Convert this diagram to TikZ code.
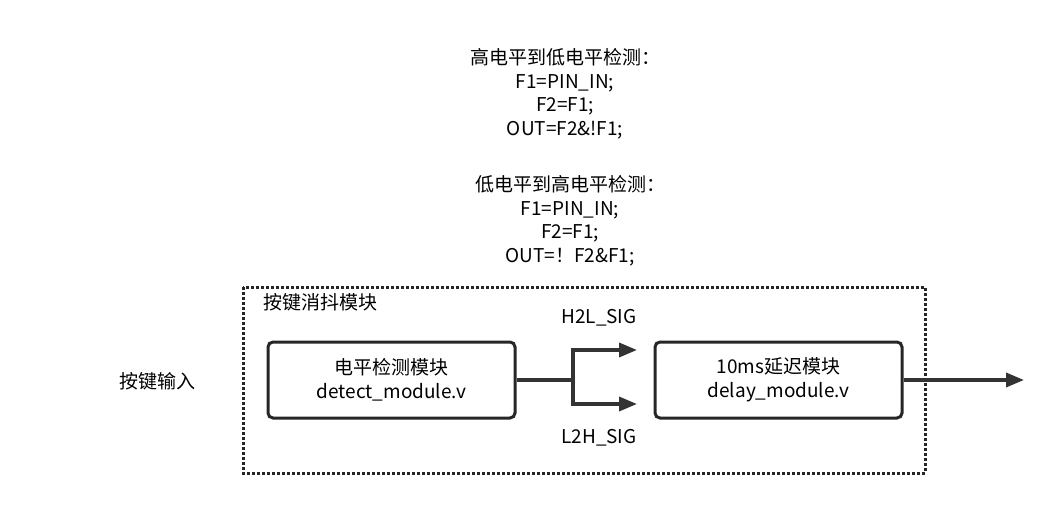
\documentclass[tikz,border=0pt]{standalone}
\usepackage{fontspec}
\setmainfont{Noto Sans CJK SC}
\usetikzlibrary{arrows.meta, positioning, calc}

\tikzset{
    modbox/.style={draw=black!85, line width=3pt, rounded corners=5pt, minimum width=247pt, minimum height=76pt, align=center, font=\fontsize{19}{24}\selectfont},
    sig/.style={line width=3.5pt, draw=black!80, -{Triangle[length=18pt, width=14pt]}},
    lbl/.style={font=\fontsize{19}{23.5}\selectfont, align=center}
}

\begin{document}
\begin{tikzpicture}[x=1pt, y=-1pt]
    \useasboundingbox (0,0) rectangle (1059,511);
    % logic notes
    \node[lbl] (hl) at (565,94) {高电平到低电平检测：\\F1=PIN\_IN;\\F2=F1;\\OUT=F2\&!F1;};
    \node[lbl] (lh) at (570,221) {低电平到高电平检测：\\F1=PIN\_IN;\\F2=F1;\\OUT=！F2\&F1;};
    
    % frame
    \draw[line width=3pt, dotted, black!85] (243,287) rectangle (925,473);
    \node[lbl, anchor=west] (frame) at (260,302) {按键消抖模块};
    \node[lbl] (input) at (157,381) {按键输入};
    
    % modules
    \node[modbox] (detect) at (391.5,380) {电平检测模块\\detect\_module.v};
    \node[modbox] (delay) at (778.5,380) {10ms延迟模块\\delay\_module.v};
    
    % signals
    \coordinate (jn) at (573,380);
    \coordinate (out) at (1024,380);
    \draw[line width=3.5pt, black!80] (detect.east) -- (jn);
    \draw[sig] (jn) |- (637,350);
    \draw[sig] (jn) |- (637,404);
    \node[lbl] (h2l) at (599,318) {H2L\_SIG};
    \node[lbl] (l2h) at (599,438) {L2H\_SIG};
    \draw[sig] (delay.east) -- (out);
\end{tikzpicture}
\end{document}
